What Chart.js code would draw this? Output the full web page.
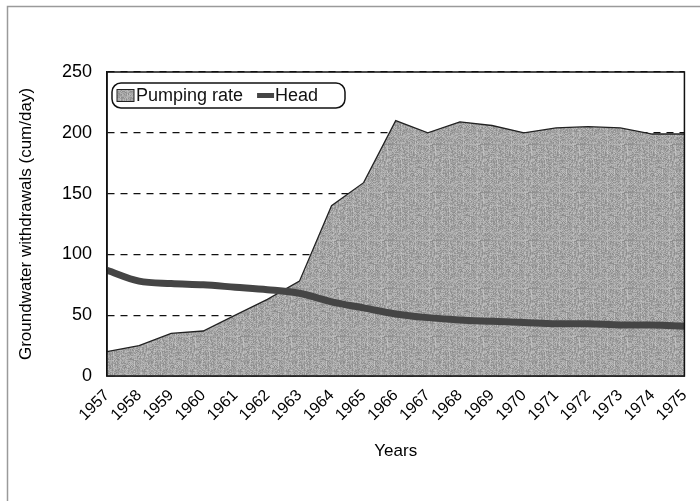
<!DOCTYPE html>
<html>
<head>
<meta charset="utf-8">
<script src="https://cdn.jsdelivr.net/npm/chart.js@4"></script>
<style>
  body { margin: 0; background: #fff; }
  #wrap { width: 700px; height: 501px; }
</style>
</head>
<body>
<div id="wrap"><canvas id="chart" width="700" height="501"></canvas></div>
<script>
// data
const years = ["1957","1958","1959","1960","1961","1962","1963","1964","1965","1966",
               "1967","1968","1969","1970","1971","1972","1973","1974","1975"];
const pumpingRate = [20, 25, 35, 37, 50, 63, 78, 140, 159, 210,
                     200, 209, 206, 200, 204, 205, 204, 199, 199];
const head = [87, 78, 76, 75, 73, 71, 68, 61, 56, 51,
              48, 46, 45, 44, 43, 43, 42, 42, 41];
const yTicks = [0, 50, 100, 150, 200, 250];

const FONT = "'Liberation Sans', Arial, sans-serif";

// grey screen-print look for the area fill (fixed hash, not data)
function makeTexture() {
  const c = document.createElement("canvas");
  c.width = 48; c.height = 48;
  const g = c.getContext("2d");
  const img = g.createImageData(48, 48);
  for (let y = 0; y < 48; y++) {
    for (let x = 0; x < 48; x++) {
      const h = ((x * 73856093) ^ (y * 19349663)) >>> 0;
      const n = (h % 97) / 97;
      let v = 163 + Math.round((n - 0.5) * 50);
      if (x % 7 === 3) v += 12;
      const i = (y * 48 + x) * 4;
      img.data[i] = img.data[i + 1] = img.data[i + 2] = v;
      img.data[i + 3] = 255;
    }
  }
  g.putImageData(img, 0, 0);
  return g.createPattern(c, "repeat");
}

// page frame + plot border
const framePlugin = {
  id: "frame",
  beforeDraw(chart) {
    const ctx = chart.ctx;
    ctx.save();
    ctx.fillStyle = "#fff";
    ctx.fillRect(0, 0, chart.width, chart.height);
    ctx.strokeStyle = "#9a9a9a";
    ctx.lineWidth = 1.5;
    ctx.beginPath();
    ctx.moveTo(700, 6.5);
    ctx.lineTo(7.5, 6.5);
    ctx.lineTo(7.5, 501);
    ctx.stroke();
    ctx.restore();
  },
  afterDatasetsDraw(chart) {
    const { ctx, chartArea: a } = chart;
    ctx.save();
    ctx.strokeStyle = "#111";
    ctx.lineWidth = 1.5;
    ctx.strokeRect(a.left, a.top, a.right - a.left, a.bottom - a.top);
    ctx.restore();
  }
};

// legend box inside the plot, top left
const legendBox = {
  id: "legendBox",
  afterDraw(chart) {
    const { ctx, chartArea: a } = chart;
    const ds = chart.data.datasets;
    const x = a.left + 5, y = a.top + 11, w = 233, h = 25, r = 9;
    ctx.save();
    ctx.fillStyle = "#fff";
    ctx.strokeStyle = "#111";
    ctx.lineWidth = 1.5;
    ctx.beginPath();
    ctx.roundRect(x, y, w, h, r);
    ctx.fill();
    ctx.stroke();

    ctx.font = "18px " + FONT;
    ctx.textBaseline = "middle";
    const cy = y + h / 2;
    let cx = x + 5;
    // area swatch
    ctx.fillStyle = ds[0].backgroundColor;
    ctx.fillRect(cx, cy - 6, 17, 12);
    ctx.strokeStyle = "#222";
    ctx.lineWidth = 1;
    ctx.strokeRect(cx, cy - 6, 17, 12);
    cx += 19;
    ctx.fillStyle = "#111";
    ctx.fillText(ds[0].label, cx, cy + 1);
    cx += ctx.measureText(ds[0].label).width + 14;
    // line swatch
    ctx.strokeStyle = ds[1].borderColor;
    ctx.lineWidth = 5;
    ctx.beginPath();
    ctx.moveTo(cx, cy);
    ctx.lineTo(cx + 17, cy);
    ctx.stroke();
    cx += 18;
    ctx.fillText(ds[1].label, cx, cy + 1);
    ctx.restore();
  }
};

new Chart(document.getElementById("chart"), {
  type: "line",
  data: {
    labels: years,
    datasets: [
      {
        label: "Pumping rate",
        data: pumpingRate,
        fill: "origin",
        backgroundColor: makeTexture(),
        borderColor: "#222",
        borderWidth: 1.3,
        pointRadius: 0,
        tension: 0,
        order: 1
      },
      {
        label: "Head",
        data: head,
        fill: false,
        borderColor: "#454545",
        borderWidth: 7,
        pointRadius: 0,
        cubicInterpolationMode: "monotone",
        order: 0
      }
    ]
  },
  options: {
    responsive: false,
    animation: false,
    layout: { padding: { top: 72, right: 10, bottom: 0, left: 0 } },
    plugins: {
      legend: { display: false },
      tooltip: { enabled: false }
    },
    scales: {
      x: {
        offset: false,
        afterFit(scale) { scale.height = 125; },
        grid: { display: false },
        border: { display: true, color: "#111", width: 1.5 },
        ticks: {
          autoSkip: false,
          maxRotation: 45,
          minRotation: 45,
          padding: 2,
          color: "#000",
          font: { family: FONT, size: 16 }
        },
        title: {
          display: true,
          text: "Years",
          color: "#000",
          font: { family: FONT, size: 17 },
          padding: { top: 0, bottom: 39 }
        }
      },
      y: {
        min: 0,
        max: 250,
        afterFit(scale) { scale.width = 107; },
        afterBuildTicks(scale) { scale.ticks = yTicks.map(v => ({ value: v })); },
        grid: {
          drawTicks: false,
          color: "#111",
          lineWidth: 1.2
        },
        border: { display: true, color: "#111", width: 1.5, dash: [7, 6] },
        ticks: {
          padding: 15,
          color: "#000",
          font: { family: FONT, size: 18 }
        },
        title: {
          display: true,
          text: "Groundwater withdrawals (cum/day)",
          color: "#000",
          font: { family: FONT, size: 17 },
          padding: { top: 16, bottom: 0 }
        }
      }
    }
  },
  plugins: [framePlugin, legendBox]
});
</script>
</body>
</html>
